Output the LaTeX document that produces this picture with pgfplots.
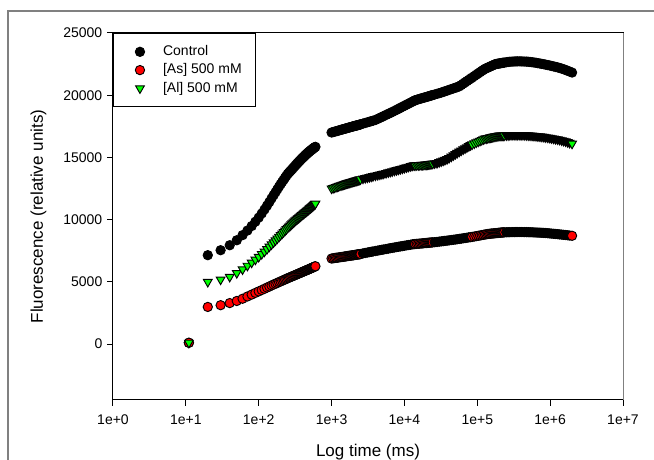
\documentclass[border=0pt]{standalone}
\usepackage{fontspec}
\setmainfont{Liberation Sans}
\usepackage{pgfplots}
\pgfplotsset{compat=1.18}
\usepackage{pgfplotstable}

\definecolor{alg}{RGB}{0,255,0}
\definecolor{asr}{RGB}{255,0,0}
\definecolor{frame}{RGB}{128,128,128}

% first part of the induction curve: 10 ms steps
\pgfplotstableread{
t ctl as al
11 100 100 100
20 7140 2980 4990
30 7540 3120 5180
40 7940 3290 5400
50 8340 3460 5700
60 8750 3640 6000
70 9120 3820 6290
80 9480 3970 6540
90 9830 4110 6780
100 10160 4230 7000
110 10490 4340 7230
120 10810 4440 7430
130 11120 4540 7630
140 11410 4620 7830
150 11700 4710 8010
160 11960 4780 8170
170 12200 4850 8330
180 12430 4910 8480
190 12650 4980 8620
200 12850 5030 8760
210 13030 5090 8880
220 13200 5140 9000
230 13370 5190 9120
240 13520 5240 9230
250 13670 5290 9340
260 13780 5330 9430
270 13880 5370 9520
280 13980 5410 9610
290 14080 5450 9690
300 14180 5480 9770
310 14270 5520 9850
320 14360 5550 9930
330 14450 5590 10000
340 14530 5620 10060
350 14610 5650 10120
360 14690 5680 10180
370 14760 5710 10240
380 14830 5740 10300
390 14900 5770 10360
400 14960 5800 10410
410 15020 5820 10460
420 15080 5850 10510
430 15140 5880 10560
440 15200 5900 10610
450 15250 5920 10650
460 15300 5950 10700
470 15350 5970 10750
480 15400 5990 10790
490 15440 6020 10830
500 15490 6040 10880
510 15530 6060 10920
520 15570 6080 10960
530 15610 6110 11000
540 15640 6130 11040
550 15680 6150 11090
560 15720 6170 11130
570 15750 6190 11170
580 15790 6210 11200
590 15820 6230 11240
600 15850 6250 11280
}\early

% second part; cl: s = sparse (marker fill visible), d = dense (outlines merge)
\pgfplotstableread{
t ctl as al cl
1000 17000 6870 12500 s
1050 17035 6890 12540 s
1100 17070 6910 12580 s
1150 17100 6930 12620 s
1200 17130 6940 12660 s
1250 17160 6960 12690 s
1300 17190 6970 12730 s
1350 17220 6990 12760 s
1400 17245 7000 12790 s
1450 17270 7010 12820 s
1500 17295 7030 12850 s
1550 17315 7040 12880 s
1600 17340 7050 12910 s
1650 17365 7070 12930 s
1700 17385 7080 12950 s
1750 17405 7090 12970 s
1800 17425 7100 12990 s
1850 17445 7110 13010 s
1900 17465 7120 13030 s
1950 17485 7130 13050 s
2000 17500 7140 13070 s
2050 17520 7150 13090 s
2100 17535 7160 13110 s
2150 17550 7170 13130 s
2200 17565 7180 13140 s
2250 17580 7190 13160 s
2300 17595 7200 13180 s
2350 17610 7210 13190 s
2400 17625 7210 13210 s
2450 17640 7220 13220 s
2500 17655 7230 13240 s
2700 17720 7285 13300 d
2900 17770 7320 13340 d
3100 17820 7350 13380 d
3300 17865 7385 13420 d
3500 17910 7410 13455 d
3700 17950 7440 13490 d
4000 18010 7475 13540 d
4300 18095 7510 13585 d
4600 18175 7545 13625 d
4900 18250 7575 13665 d
5200 18325 7600 13700 d
5600 18415 7635 13745 d
6000 18500 7670 13795 d
6400 18575 7700 13840 d
6800 18650 7725 13880 d
7300 18740 7760 13930 d
7800 18825 7790 13975 d
8300 18905 7820 14020 d
8800 18985 7845 14060 d
9400 19070 7870 14105 d
10000 19150 7900 14150 d
10700 19240 7930 14200 d
11400 19320 7955 14245 d
12200 19410 7985 14295 d
13000 19490 8015 14340 d
13600 19550 8030 14360 d
14000 19595 8035 14360 s
14750 19630 8050 14370 s
15500 19670 8060 14375 s
16250 19705 8070 14385 s
17000 19740 8080 14395 s
17750 19770 8090 14400 s
18500 19800 8105 14405 s
19250 19830 8115 14415 s
20000 19860 8120 14420 s
20750 19885 8130 14435 s
21500 19910 8140 14450 s
22250 19940 8150 14460 s
23000 19965 8155 14475 s
23750 19990 8165 14485 s
24500 20010 8170 14495 s
26000 20055 8185 14520 d
28000 20110 8205 14545 d
30000 20160 8230 14615 d
32000 20210 8250 14680 d
34000 20265 8270 14740 d
36000 20310 8290 14800 d
38500 20370 8310 14865 d
41000 20425 8330 14950 d
44000 20490 8355 15060 d
47000 20545 8380 15165 d
50000 20600 8400 15265 d
53000 20650 8420 15355 d
56500 20710 8450 15455 d
60000 20810 8470 15545 d
64000 20925 8495 15640 d
68000 21030 8520 15725 d
72000 21130 8545 15810 d
76500 21235 8570 15900 d
81000 21335 8590 15980 d
85000 21415 8610 16045 s
91000 21535 8640 16125 s
97000 21650 8670 16200 s
103000 21750 8700 16270 s
109000 21850 8725 16335 s
115000 21945 8750 16395 s
121000 22030 8775 16455 s
127000 22110 8800 16505 s
133000 22165 8820 16530 s
139000 22215 8840 16555 s
145000 22265 8855 16575 s
151000 22310 8865 16600 s
157000 22355 8880 16620 s
163000 22400 8885 16640 s
169000 22440 8895 16660 s
175000 22480 8905 16680 s
181000 22510 8915 16695 s
187000 22520 8920 16715 s
193000 22535 8930 16730 s
199000 22550 8940 16750 s
205000 22560 8945 16750 s
211000 22575 8955 16755 s
217000 22585 8960 16755 s
223000 22600 8970 16760 s
229000 22610 8970 16760 s
235000 22620 8975 16765 s
250000 22645 8980 16775 d
265000 22670 8985 16780 d
280000 22690 8990 16790 d
300000 22700 8995 16795 d
320000 22710 8995 16800 d
340000 22715 9000 16800 d
360000 22720 9000 16800 d
385000 22720 9000 16795 d
410000 22715 9000 16790 d
440000 22705 8995 16785 d
470000 22700 8995 16780 d
500000 22690 8990 16770 d
530000 22670 8985 16760 d
565000 22650 8980 16745 d
600000 22630 8970 16730 d
640000 22605 8965 16715 d
680000 22575 8955 16695 d
725000 22545 8950 16680 d
770000 22515 8940 16660 d
820000 22485 8930 16640 d
870000 22455 8920 16615 d
930000 22420 8905 16590 d
990000 22385 8890 16565 d
1050000 22350 8875 16535 d
1120000 22310 8860 16505 d
1190000 22275 8845 16475 d
1270000 22235 8830 16445 d
1350000 22190 8810 16410 d
1440000 22140 8795 16365 d
1530000 22085 8775 16325 d
1630000 22030 8760 16280 d
1740000 21960 8740 16220 d
1850000 21900 8720 16165 d
2000000 21820 8700 16100 s
}\late

\begin{document}
\begin{tikzpicture}
\useasboundingbox (0,0) rectangle (490.5pt,345pt);
\draw[frame, line width=1pt] (6pt,0) -- (6pt,336.75pt) -- (490.5pt,336.75pt);
\begin{axis}[
  at={(84.75pt,45pt)}, anchor=south west,
  scale only axis, width=382.5pt, height=275.25pt,
  xmode=log, xmin=1, xmax=1e7,
  ymin=-4500, ymax=25000,
  scaled y ticks=false,
  xtick={1,10,100,1000,10000,100000,1000000,10000000},
  xticklabels={1e+0,1e+1,1e+2,1e+3,1e+4,1e+5,1e+6,1e+7},
  ytick={0,5000,10000,15000,20000,25000},
  yticklabels={0,5000,10000,15000,20000,25000},
  xminorticks=false,
  xtick pos=bottom, ytick pos=left, tick align=outside,
  major tick length=4.5pt,
  axis line style={line width=0.75pt},
  every tick/.style={black, line width=0.75pt},
  tick label style={font=\fontsize{10.5}{12}\selectfont},
  xticklabel style={yshift=-3pt},
  label style={font=\fontsize{12.75}{15}\selectfont},
  xlabel={Log time (ms)},
  ylabel={Fluorescence (relative units)},
  xlabel style={at={(axis description cs:0.5,-0.141)}, anchor=center},
  ylabel style={at={(axis description cs:-0.146,0.5)}, anchor=center},
  legend style={at={(rel axis cs:0,1)}, anchor=north west, draw=black,
    line width=0.75pt, inner xsep=9.5pt, inner ysep=7.5pt,
    font=\fontsize{10.5}{12}\selectfont, row sep=1.2pt,
    nodes={inner sep=1pt, text height=8pt, text depth=2.5pt}},
  legend cell align=left,
  legend image code/.code={%
    \path (0pt,0pt) (26pt,0pt);
    \draw[mark repeat=2, mark phase=2, #1] plot coordinates {(0pt,0pt) (10pt,0pt) (20pt,0pt)};},
]
\addplot[only marks, mark=*, mark size=3.5pt, draw=black, fill=black, line width=0.7pt]
  table[x=t, y=ctl] {\early};
\addlegendentry{Control}
\addplot[only marks, mark=*, mark size=3.5pt, draw=black, fill=asr, line width=0.7pt]
  table[x=t, y=as] {\early};
\addlegendentry{[As] 500 mM}
\addplot[only marks, mark=triangle*, mark size=3.8pt, mark options={rotate=180},
  draw=black, fill=alg, line width=0.7pt]
  table[x=t, y=al] {\early};
\addlegendentry{[Al] 500 mM}

\addplot[forget plot, only marks, scatter, scatter src=explicit symbolic,
  mark size=3.5pt, line width=0.7pt,
  scatter/classes={s={mark=*, draw=black, fill=black}, d={mark=*, draw=black, fill=black}}]
  table[x=t, y=ctl, meta=cl] {\late};
\addplot[forget plot, only marks, scatter, scatter src=explicit symbolic,
  mark size=3.5pt, line width=0.7pt,
  scatter/classes={s={mark=*, draw=black, fill=asr}, d={mark=*, draw=black, fill=black}}]
  table[x=t, y=as, meta=cl] {\late};
\addplot[forget plot, only marks, scatter, scatter src=explicit symbolic,
  mark size=3.8pt, line width=0.7pt,
  scatter/classes={s={mark=triangle*, rotate=180, draw=black, fill=alg},
                   d={mark=triangle*, rotate=180, draw=black, fill=black}}]
  table[x=t, y=al, meta=cl] {\late};
\end{axis}
\draw[frame, line width=0.75pt] (467.25pt,45pt) -- (467.25pt,320.25pt);
\end{tikzpicture}
\end{document}
